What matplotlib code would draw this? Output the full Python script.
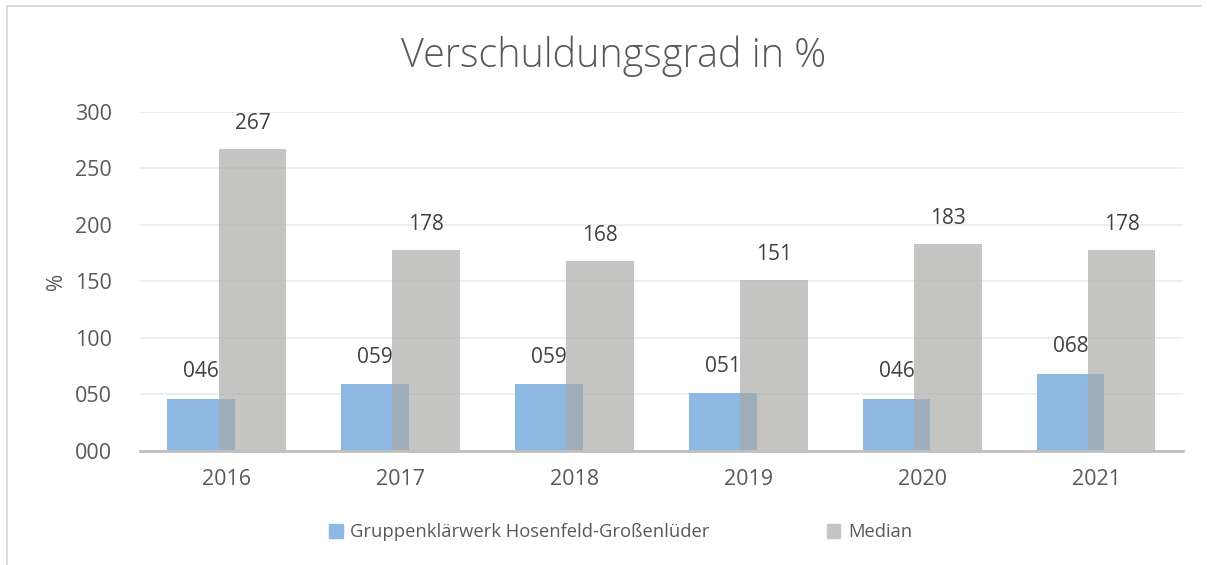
import numpy as np
import matplotlib
matplotlib.use("Agg")
import matplotlib.pyplot as plt
from matplotlib.patches import Rectangle

# chart data
years = ["2016", "2017", "2018", "2019", "2020", "2021"]
werk = [46, 59, 59, 51, 46, 68]
median = [267, 178, 168, 151, 183, 178]
yticks = [0, 50, 100, 150, 200, 250, 300]
series_names = ["Gruppenklärwerk Hosenfeld-Großenlüder", "Median"]

plt.rcParams['font.family'] = ['Open Sans', 'DejaVu Sans']
text_col = '#595959'

fig = plt.figure(figsize=(12.07, 5.65), dpi=100)
ax = fig.add_axes([0.116, 0.2018, 0.864, 0.6])

x = np.arange(len(years))
w = 0.39
off = 0.147
ax.bar(x - off, werk, w, color='#8DB8E1', zorder=2)
ax.bar(x + off, median, w, color='#AAA9A8', alpha=0.675, zorder=3)

for xi, v in zip(x, werk):
    ax.annotate('%03d' % v, (xi - off, v), xytext=(0, 12), textcoords='offset points',
                ha='center', va='bottom', fontsize=15, color='#404040')
for xi, v in zip(x, median):
    ax.annotate('%03d' % v, (xi + off, v), xytext=(0, 11), textcoords='offset points',
                ha='center', va='bottom', fontsize=15, color='#404040')

ax.set_xlim(-0.5, 5.5)
ax.set_ylim(0, 300)
ax.set_yticks(yticks)
ax.set_yticklabels(['%03d' % t for t in yticks])
ax.set_xticks(x)
ax.set_xticklabels(years)
ax.tick_params(axis='both', length=0, labelsize=15.5, labelcolor=text_col)
ax.tick_params(axis='y', pad=20)
ax.tick_params(axis='x', pad=13)
ax.grid(axis='y', color='#EBEBEB', linewidth=1.2, zorder=0)
for s in ['top', 'right', 'left']:
    ax.spines[s].set_visible(False)
ax.spines['bottom'].set_color('#BFBFBF')
ax.spines['bottom'].set_linewidth(2)
ax.spines['bottom'].set_zorder(4)

ax.set_ylabel('%', fontsize=15, color=text_col)
ax.yaxis.set_label_coords(-0.07, 0.5)

fig.text(0.508, 0.900, 'Verschuldungsgrad in %', ha='center', va='center',
         fontsize=28.5, fontweight='light', color=text_col)

handles = [Rectangle((0, 0), 1, 1, color='#8DB8E1'), Rectangle((0, 0), 1, 1, color='#C6C5C4')]
fig.legend(handles, series_names, loc='center', bbox_to_anchor=(0.514, 0.058), ncol=2,
           frameon=False, fontsize=13.2, labelcolor=text_col, handlelength=0.75,
           handleheight=0.75, handletextpad=0.4, columnspacing=6.4)

# outer chart border (cropped at right and bottom)
fig.add_artist(plt.Line2D([0.0058, 0.0058], [0, 0.989], color='#D9D9D9', lw=1.3))
fig.add_artist(plt.Line2D([0.0058, 0.995], [0.989, 0.989], color='#D9D9D9', lw=1.3))

fig.savefig('out.png', dpi=100)
